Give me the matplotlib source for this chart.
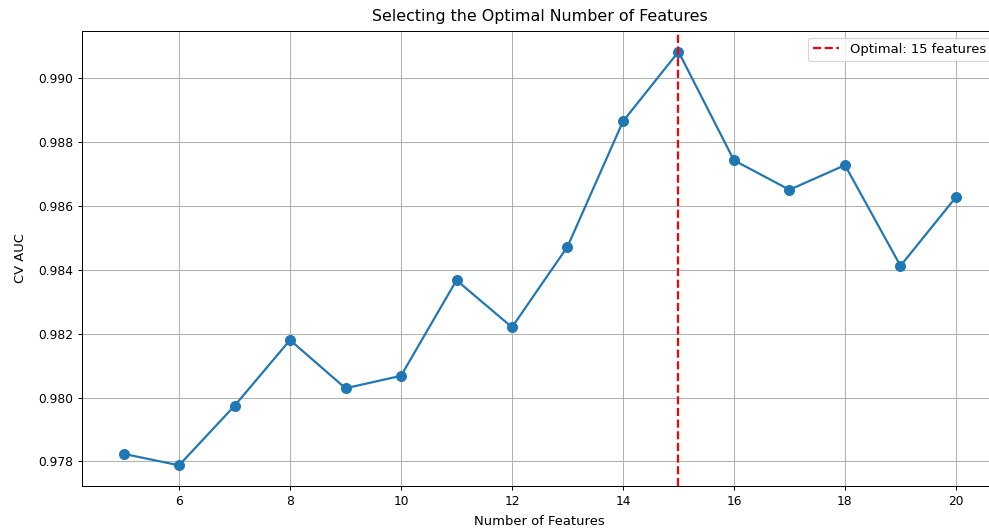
import numpy as np
import matplotlib
matplotlib.use("Agg")
import matplotlib.pyplot as plt

# Cross-validated AUC for each feature-subset size
n_features = [5, 6, 7, 8, 9, 10, 11, 12, 13, 14, 15, 16, 17, 18, 19, 20]
cv_auc = [0.97824, 0.97788, 0.97974, 0.98180, 0.98029, 0.98068, 0.98367,
          0.98220, 0.98472, 0.98864, 0.99082, 0.98742, 0.98650, 0.98727,
          0.98412, 0.98627]

best_idx = int(np.argmax(cv_auc))
best_n = n_features[best_idx]

fig = plt.figure(figsize=(989 / 88, 532 / 88), dpi=88)
ax = fig.add_axes([81.9 / 989, 46 / 532, 915.7 / 989, 455 / 532])

ax.plot(n_features, cv_auc, marker="o", markersize=8, color="#1f77b4", linewidth=1.8)
ax.axvline(best_n, color="red", linestyle="--", linewidth=1.8,
           label=f"Optimal: {best_n} features")

ax.set_title("Selecting the Optimal Number of Features", fontsize=13, pad=8)
ax.set_xlabel("Number of Features", fontsize=10.7, labelpad=6)
ax.set_ylabel("CV AUC", fontsize=10.7, labelpad=9)
ax.grid(True)
ax.legend(loc="upper right", fontsize=10.7)

fig.savefig("out.png", dpi=88)
